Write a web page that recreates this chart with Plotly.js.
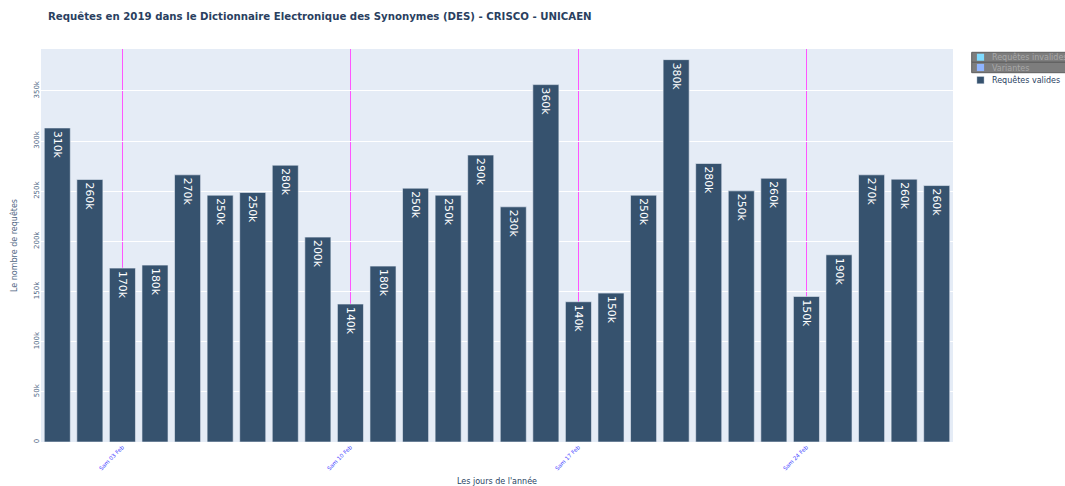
<!DOCTYPE html>
<html><head><meta charset="utf-8">
<script src="https://cdn.plot.ly/plotly-3.0.1.min.js"></script>
<style>html,body{margin:0;padding:0;background:#fff}</style>
</head><body>
<div id="chart" style="width:1065px;height:486px"></div>
<script>
const jours = ['2019-02-01','2019-02-02','2019-02-03','2019-02-04','2019-02-05','2019-02-06','2019-02-07',
  '2019-02-08','2019-02-09','2019-02-10','2019-02-11','2019-02-12','2019-02-13','2019-02-14',
  '2019-02-15','2019-02-16','2019-02-17','2019-02-18','2019-02-19','2019-02-20','2019-02-21',
  '2019-02-22','2019-02-23','2019-02-24','2019-02-25','2019-02-26','2019-02-27','2019-02-28'];
const requetesValides = [313000,261600,173300,176300,266300,246000,248700,275900,204200,137500,
  175300,253000,246000,286000,234400,356200,139800,148400,246000,381100,277600,250300,262900,
  145100,186600,266300,262000,255600];
const requetesInvalides = [null];
const variantes = [null];
const tickJours = ['2019-02-03','2019-02-10','2019-02-17','2019-02-24'];
const tickLabels = ['Sam 03 Feb','Sam 10 Feb','Sam 17 Feb','Sam 24 Feb'];

const FONT = 'DejaVu Sans, Verdana, sans-serif';

const traces = [
  {type:'bar', name:'Requêtes invalides', x:[jours[0]], y:requetesInvalides,
   marker:{color:'#7fdbff'}, legend:'legend', showlegend:true, hoverinfo:'skip'},
  {type:'bar', name:'Variantes', x:[jours[0]], y:variantes,
   marker:{color:'#8fb4ff'}, legend:'legend2', showlegend:true, hoverinfo:'skip'},
  {type:'bar', name:'Requêtes valides', x:jours, y:requetesValides,
   marker:{color:'#36526e', line:{color:'#E5ECF6', width:0.6}},
   texttemplate:'%{y:.2s}', textposition:'inside', insidetextanchor:'end', textangle:90,
   textfont:{family:FONT, size:10.8, color:'#ffffff'}, legend:'legend3', showlegend:true}
];

const rowY = [0.9916, 0.9662, 0.9397];
const legX = 0.9989;
const layout = {
  width:1065, height:486,
  showlegend:true,
  margin:{l:41, r:112, t:49, b:44, autoexpand:false},
  paper_bgcolor:'#ffffff', plot_bgcolor:'#E5ECF6',
  font:{family:FONT, color:'#2a3f5f'},
  barmode:'overlay', bargap:0.2,
  title:{text:'Requêtes en 2019 dans le Dictionnaire Electronique des Synonymes (DES) - CRISCO - UNICAEN',
    x:0.045, xanchor:'left', y:0.967, yanchor:'middle',
    font:{family:FONT, size:10.2, color:'#2a3f5f', weight:'bold'}},
  xaxis:{type:'date', tickvals:tickJours, ticktext:tickLabels, tickangle:-45,
    tickfont:{family:FONT, size:5.5, color:'#3a3aff'},
    showgrid:true, gridcolor:'rgb(255,85,255)', gridwidth:1, zeroline:false,
    title:{text:'Les jours de l\'année', font:{family:FONT, size:8, color:'#2a3f5f'}, standoff:9}},
  yaxis:{range:[0,391700], dtick:50000, tickangle:-90, tickformat:'~s',
    tickfont:{family:FONT, size:7, color:'#506784'},
    gridcolor:'#ffffff', zerolinecolor:'#ffffff',
    title:{text:'Le nombre de requêtes', font:{family:FONT, size:8, color:'#506784'}, standoff:13}},
  legend:{x:legX, y:0.979, yanchor:'middle', bgcolor:'rgba(0,0,0,0)', visible:true, font:{family:FONT, size:8, color:'#a8a8a8'}},
  legend2:{x:legX, y:0.953, yanchor:'middle', bgcolor:'rgba(0,0,0,0)', visible:true, font:{family:FONT, size:8, color:'#a8a8a8'}},
  legend3:{x:legX, y:0.921, yanchor:'middle', bgcolor:'rgba(0,0,0,0)', visible:true, font:{family:FONT, size:8, color:'#2a3f5f'}},
  shapes:[
    {type:'rect', xref:'paper', yref:'paper', x0:1.0205, x1:1.2, y0:rowY[1], y1:rowY[0],
     fillcolor:'#7d7d7d', line:{color:'#5e5e5e', width:1}, layer:'below'},
    {type:'rect', xref:'paper', yref:'paper', x0:1.0205, x1:1.2, y0:rowY[2], y1:rowY[1],
     fillcolor:'#7d7d7d', line:{color:'#5e5e5e', width:1}, layer:'below'}
  ]
};

Plotly.newPlot('chart', traces, layout, {displayModeBar:false, staticPlot:true}).then(() => {
  document.querySelectorAll('.legendpoints path').forEach(p => {
    p.setAttribute('transform', 'translate(28.5,0) scale(0.6)');
  });
});
</script>
</body></html>
